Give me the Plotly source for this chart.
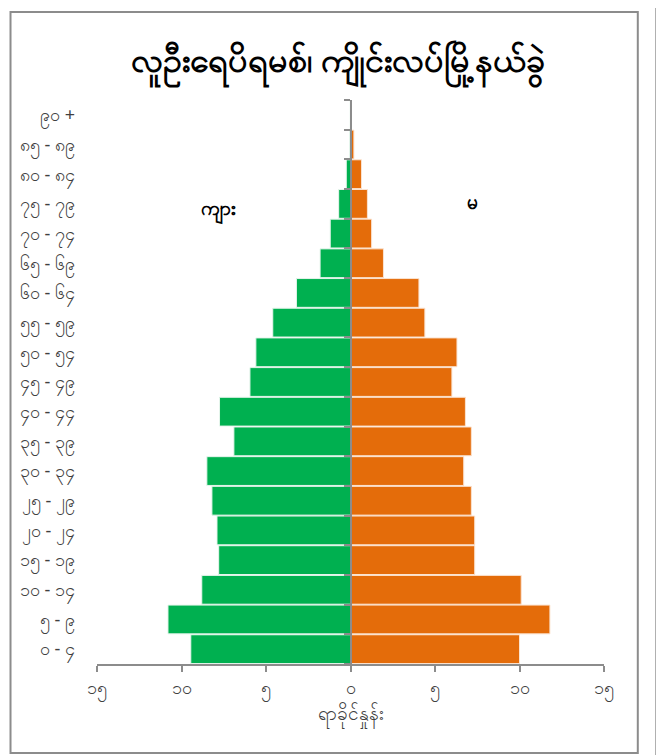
import plotly.graph_objects as go

age_groups = ["၀ - ၄", "၅ - ၉", "၁၀ - ၁၄", "၁၅ - ၁၉", "၂၀ - ၂၄", "၂၅ - ၂၉",
              "၃၀ - ၃၄", "၃၅ - ၃၉", "၄၀ - ၄၄", "၄၅ - ၄၉", "၅၀ - ၅၄", "၅၅ - ၅၉",
              "၆၀ - ၆၄", "၆၅ - ၆၉", "၇၀ - ၇၄", "၇၅ - ၇၉", "၈၀ - ၈၄", "၈၅ - ၈၉", "၉၀ +"]
male_pct = [9.45, 10.8, 8.8, 7.8, 7.9, 8.2, 8.5, 6.9, 7.75, 5.95, 5.6, 4.6, 3.2, 1.8, 1.2, 0.7, 0.25, 0.06, 0.02]
female_pct = [10.0, 11.8, 10.1, 7.35, 7.35, 7.15, 6.7, 7.15, 6.8, 6.0, 6.3, 4.4, 4.05, 1.95, 1.25, 1.0, 0.65, 0.2, 0.04]
x_tickvals = [-15, -10, -5, 0, 5, 10, 15]
x_ticktext = ["၁၅", "၁၀", "၅", "၀", "၅", "၁၀", "၁၅"]

title_text = "လူဦးရေပိရမစ်၊ ကျိုင်းလပ်မြို့နယ်ခွဲ"
male_label = "ကျား"
female_label = "မ"
x_title = "ရာခိုင်နှုန်း"

# The page body has an 8px default margin; lay the figure out in page pixels.
OFF = 8
W, H = 664 - OFF, 755 - OFF
L, R, T, B = 94 - OFF, 60, 100 - OFF, 91
pw, ph = W - L - R, H - T - B

def px(x):
    return (x - OFF - L) / pw

def py(y):
    return (H - B - (y - OFF)) / ph

FONT = "Noto Sans, DejaVu Sans, sans-serif"

fig = go.Figure()
fig.add_trace(go.Bar(
    y=age_groups, x=[-v for v in male_pct], orientation="h", name=male_label,
    marker=dict(color="#00B050", line=dict(color="#E6F5EC", width=1)),
    customdata=male_pct, hovertemplate="%{y}: %{customdata}<extra></extra>",
))
fig.add_trace(go.Bar(
    y=age_groups, x=female_pct, orientation="h", name=female_label,
    marker=dict(color="#E46C0A", line=dict(color="#FBE3D0", width=1)),
    hovertemplate="%{y}: %{x}<extra></extra>",
))
# invisible trace to carry the centre axis with boundary ticks
fig.add_trace(go.Scatter(x=[0, 0], y=[-0.5, len(age_groups) - 0.5], yaxis="y2",
                         mode="lines", line=dict(width=0), hoverinfo="skip",
                         showlegend=False))

n = len(age_groups)
fig.update_layout(
    width=W, height=H,
    margin=dict(l=L, r=R, t=T, b=B),
    paper_bgcolor="white", plot_bgcolor="white",
    barmode="overlay", bargap=0.03, showlegend=False,
    font=dict(family=FONT, color="#000000", size=14),
    title=dict(text="<b>" + title_text + "</b>", x=(338 - OFF) / W, xanchor="center",
               y=1 - (60 - OFF) / H, yanchor="middle",
               font=dict(size=34, family=FONT, color="#000000")),
    xaxis=dict(range=[-15, 15], tickvals=x_tickvals, ticktext=x_ticktext,
               showgrid=False, zeroline=False, showline=True, linecolor="#8C8C8C",
               linewidth=2, ticks="outside", ticklen=6, tickwidth=2, tickcolor="#8C8C8C",
               tickfont=dict(size=18, color="#404040"),
               title=dict(text=x_title, font=dict(size=19, color="#404040"), standoff=6)),
    yaxis=dict(type="category", categoryorder="array", categoryarray=age_groups,
               range=[-0.5, n - 0.5], showgrid=False, zeroline=False, showline=False,
               ticks="", ticklabelstandoff=21,
               tickfont=dict(size=18, color="#404040")),
    yaxis2=dict(overlaying="y", anchor="free", position=0.5, side="left",
                range=[-0.5, n - 0.5], showgrid=False, zeroline=False,
                showline=True, linecolor="#8C8C8C", linewidth=2,
                ticks="outside", ticklen=6, tickwidth=2, tickcolor="#8C8C8C",
                tickvals=[k - 0.5 for k in range(n + 1)], showticklabels=False),
    shapes=[
        dict(type="rect", xref="paper", yref="paper",
             x0=px(7), x1=px(638), y0=py(753), y1=py(12),
             line=dict(color="#8C8C8C", width=2), fillcolor="rgba(0,0,0,0)", layer="below"),
        dict(type="rect", xref="paper", yref="paper",
             x0=px(656), x1=px(664), y0=py(755), y1=py(OFF),
             line=dict(width=0), fillcolor="#000000"),
    ],
    annotations=[
        dict(text="<b>" + male_label + "</b>", x=px(197), y=py(193), xref="paper", yref="paper",
             showarrow=False, font=dict(size=19, color="#000000", family=FONT)),
        dict(text="<b>" + female_label + "</b>", x=px(479), y=py(187), xref="paper", yref="paper",
             showarrow=False, font=dict(size=19, color="#000000", family=FONT)),
    ],
)

fig.write_html("out.html")
